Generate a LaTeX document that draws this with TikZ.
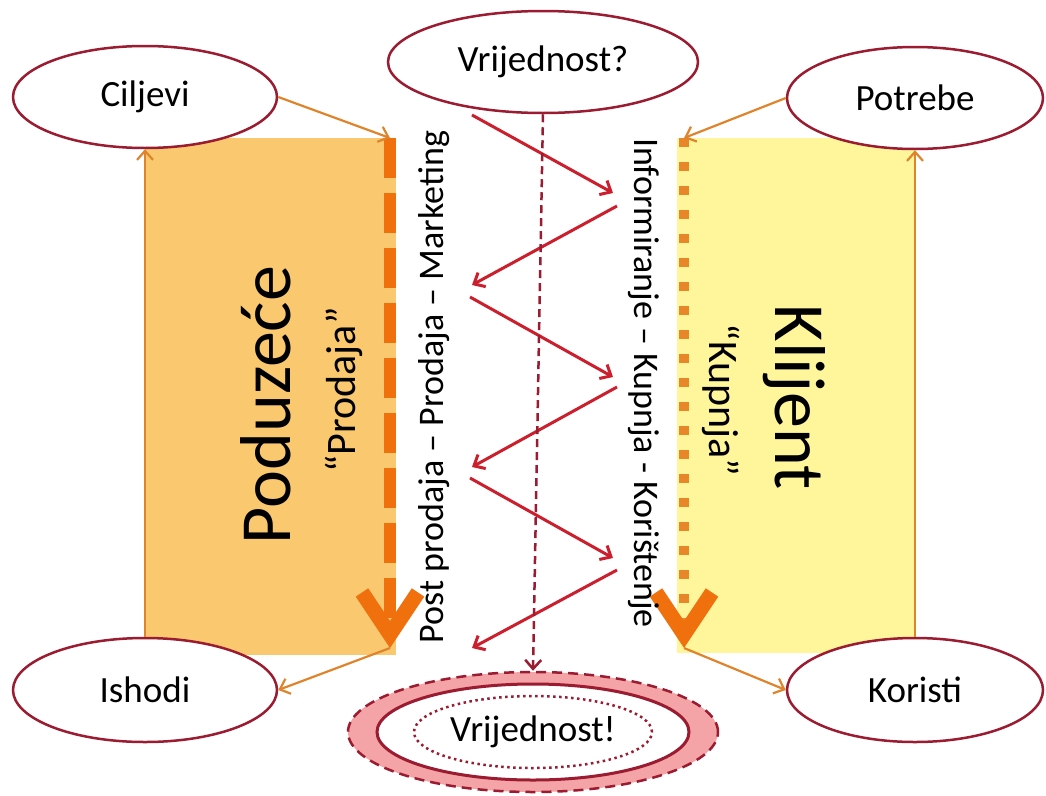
\documentclass[tikz,border=0pt]{standalone}
\usepackage{fontspec}
\setmainfont{Carlito}
\usetikzlibrary{arrows.meta,shapes.geometric}
\definecolor{ovalred}{HTML}{9B1B30}
\definecolor{zigred}{HTML}{CC1F2D}
\definecolor{thinorange}{HTML}{E0842C}
\definecolor{thickorange}{HTML}{F0700E}
\definecolor{dotorange}{HTML}{E8862A}
\definecolor{firmfill}{HTML}{FAC96F}
\definecolor{clientfill}{HTML}{FFF69C}
\definecolor{valuepink}{HTML}{F4A3A6}
\tikzset{
  oval/.style={ellipse, draw=ovalred, line width=2.5pt, fill=white, inner sep=0pt,
    font=\fontsize{37}{40}\selectfont},
  block/.style={inner sep=0pt, draw=none},
  sidetxt/.style={inner sep=0pt, font=\fontsize{36}{40}\selectfont},
  bigtxt/.style={inner sep=0pt, font=\fontsize{72}{80}\selectfont},
  quotetxt/.style={inner sep=0pt, font=\fontsize{42}{46}\selectfont},
  thinflow/.style={draw=thinorange, line width=2.2pt, -{Straight Barb[length=9pt,width=16pt]}},
  zigflow/.style={draw=zigred, line width=3pt, -{Straight Barb[length=9pt,width=16pt]}},
  chevron/.style={-{Straight Barb[length=42pt,width=56pt,line width=15pt,color=thickorange]}}
}
\begin{document}
\begin{tikzpicture}[x=1pt,y=-1pt]
  \useasboundingbox (0,0) rectangle (1046,795);
  % blocks
  \node[block, fill=firmfill, minimum width=251pt, minimum height=517pt] (firm) at (270.5,396.5) {};
  \node[block, fill=clientfill, minimum width=239pt, minimum height=515pt] (client) at (796.5,395.5) {};
  % free ends
  \coordinate (ltop) at (390,138);
  \coordinate (ltip) at (390,648);
  \coordinate (rtop) at (684,138);
  \coordinate (rtip) at (684,648);
  % thick flows
  \draw[thickorange, line width=12pt, dash pattern=on 40pt off 15pt, chevron] (ltop) -- (ltip);
  \draw[dotorange, line width=10pt, dash pattern=on 9pt off 15pt, chevron] (rtop) -- (rtip);
  % texts
  \node[bigtxt, rotate=90, anchor=base] (firmtxt) at (290,405) {Poduzeće};
  \node[quotetxt, rotate=90, anchor=base] (saletxt) at (355,390) {“Prodaja”};
  \node[bigtxt, rotate=-90, anchor=base] (clienttxt) at (775,397) {Klijent};
  \node[quotetxt, rotate=-90, anchor=base] (buytxt) at (709,400) {“Kupnja”};
  \node[sidetxt, rotate=90, anchor=base] (firmsteps) at (443,387) {Post prodaja – Prodaja – Marketing};
  \node[sidetxt, rotate=-90, anchor=base] (clientsteps) at (634,383) {Informiranje – Kupnja - Korištenje};
  % ovals
  \node[oval, minimum width=310pt, minimum height=102pt] (vq) at (543,62) {Vrijednost?};
  \node[oval, minimum width=264pt, minimum height=102pt] (goals) at (145,97) {Ciljevi};
  \node[oval, minimum width=256pt, minimum height=102pt] (needs) at (915,98) {Potrebe};
  \node[oval, minimum width=264pt, minimum height=104pt] (outcomes) at (145,690) {Ishodi};
  \node[oval, minimum width=256pt, minimum height=104pt] (benefits) at (915,690) {Koristi};
  \node[oval, fill=valuepink, dash pattern=on 10pt off 6pt, minimum width=370pt, minimum height=120pt] (valout) at (533,732) {};
  \node[oval, line width=3pt, minimum width=312pt, minimum height=96pt] (valin) at (valout) {};
  \node[oval, line width=2.5pt, dash pattern=on 2.5pt off 3.5pt, inner xsep=-12pt, minimum width=238pt, minimum height=72pt] (val) at (valout) {Vrijednost!};
  % thin flows
  \draw[thinflow] (outcomes.north) -- (goals.south);
  \draw[thinflow] (benefits.north) -- (needs.south);
  \draw[thinflow] (goals.east) -- (ltop);
  \draw[thinflow] (needs.west) -- (rtop);
  \draw[thinflow] (ltip) -- (outcomes.east);
  \draw[thinflow] (rtip) -- (benefits.west);
  % zigzag
  \coordinate (s1) at (472,115); \coordinate (e1) at (613,193);
  \coordinate (s2) at (617,206); \coordinate (e2) at (472,285);
  \coordinate (s3) at (470,297); \coordinate (e3) at (613,377);
  \coordinate (s4) at (617,387); \coordinate (e4) at (472,467);
  \coordinate (s5) at (470,478); \coordinate (e5) at (613,558);
  \coordinate (s6) at (617,570); \coordinate (e6) at (472,648);
  \foreach \i in {1,...,6}
    \draw[zigflow] (s\i) -- (e\i);
  \draw[ovalred, line width=2.5pt, dash pattern=on 8pt off 5pt, -{Straight Barb[length=9pt,width=16pt]}] (vq.south) -- (valout.north);
\end{tikzpicture}
\end{document}
